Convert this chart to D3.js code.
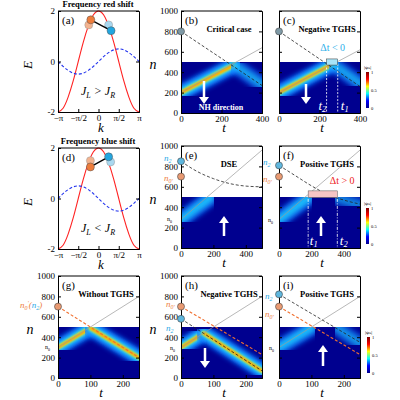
<!DOCTYPE html>
<html><head><meta charset="utf-8">
<script src="https://cdn.jsdelivr.net/npm/d3@7"></script>
<style>body{margin:0;background:#fff}text{font-family:"Liberation Serif","DejaVu Serif",serif}</style>
</head><body><svg id="fig" width="400" height="400"></svg>
<script>
// band-structure samples, k in units of pi
const kSamples = [-1,-0.875,-0.75,-0.625,-0.5,-0.375,-0.25,-0.125,0,0.125,0.25,0.375,0.5,0.625,0.75,0.875,1];
const bandRed = [-2,-1.85,-1.41,-0.77,0,0.77,1.41,1.85,2,1.85,1.41,0.77,0,-0.77,-1.41,-1.85,-2];
const bandBlueA = [0,-0.19,-0.35,-0.46,-0.5,-0.46,-0.35,-0.19,0,0.19,0.35,0.46,0.5,0.46,0.35,0.19,0];
const bandBlueD = bandBlueA.map(v => -v);
const kTicks = [-1,-0.5,0,0.5,1];
const kTickLabels = ["\u2212\u03c0","\u2212\u03c0/2","0","\u03c0/2","\u03c0"];
const eTicks = [-2,0,2];
const nTicks = [0,200,400,600,800,1000];

// beams: [t,n] paths and strength per panel
const beams = {
  b: [[[[0,200],[262,470]],1],[[[262,470],[400,280]],0.4]],
  c: [[[[0,200],[265,480]],1],[[[265,480],[400,290]],0.4]],
  e: [[[[0,280],[180,490]],0.5],[[[180,492],[500,492]],0.3]],
  f: [[[[0,280],[180,490]],0.5],[[[180,492],[360,492]],0.25],[[[360,490],[500,420]],0.3]],
  g: [[[[0,300],[100,490]],1],[[[100,490],[250,200]],1]],
  h: [[[[0,300],[70,440]],1],[[[70,440],[250,70]],1]],
  i: [[[[0,300],[100,490]],0.5],[[[100,490],[180,490]],0.25],[[[180,490],[250,340]],0.35]]
};
const greyLines = {
  b: [[0,200],[400,640]], c: [[0,200],[400,620]],
  e: [[0,280],[500,960]], f: [[0,280],[500,960]],
  g: [[0,300],[250,800]], h: [[0,300],[250,800]], i: [[0,300],[250,800]]
};
const blackDashed = {
  b: [[0,800],[400,270]], c: [[0,800],[400,260]],
  e: [[0,850],[100,750],[200,680],[300,632],[400,607],[500,600]],
  f: [[0,810],[100,710],[200,610],[300,525],[400,470],[500,430]],
  h: [[0,580],[250,70]], i: [[0,820],[250,350]]
};
const orangeDashed = { g: [[0,700],[250,200]], h: [[0,700],[250,230]], i: [[0,700],[250,230]] };
const markers = {
  b: [[800,"#7f9aa6"]], c: [[800,"#7f9aa6"]],
  e: [[850,"#5fb7de"],[700,"#e99a72"]], f: [[810,"#5fb7de"],[700,"#e99a72"]],
  g: [[700,"#e99a72"]], h: [[700,"#e99a72"],[580,"#5fb7de"]], i: [[820,"#5fb7de"],[700,"#e99a72"]]
};

const svg = d3.select("#fig");
const defs = svg.append("defs");
defs.append("filter").attr("id","blur").append("feGaussianBlur").attr("stdDeviation",2.5);
defs.append("filter").attr("id","blur2").append("feGaussianBlur").attr("stdDeviation",1);
const jet = defs.append("linearGradient").attr("id","jet").attr("x1","0").attr("y1","1").attr("x2","0").attr("y2","0");
[["0%","#00008f"],["20%","#0000ff"],["40%","#00ffff"],["60%","#ffff00"],["80%","#ff0000"],["100%","#800000"]]
  .forEach(s => jet.append("stop").attr("offset",s[0]).attr("stop-color",s[1]));

function axes(g, x, y, xt, xl, yt, yl, showY) {
  g.append("g").attr("transform",`translate(0,${y.range()[0]})`)
    .call(d3.axisBottom(x).tickValues(xt).tickFormat((d,i)=>xl?xl[i]:d).tickSize(-3).tickPadding(3))
    .call(a=>a.selectAll("text").attr("font-size",9).attr("fill","#000"));
  g.append("g").attr("transform",`translate(${x.range()[1]},0)`)
    .call(d3.axisRight(y).tickValues(yt).tickSize(-3).tickFormat(""));
  g.append("g").attr("transform",`translate(${x.range()[0]},0)`)
    .call(d3.axisLeft(y).tickValues(yt).tickSize(-3).tickPadding(3).tickFormat(showY?(yl||(d=>d)):""))
    .call(a=>a.selectAll("text").attr("font-size",9).attr("fill","#000"));
  g.append("line").attr("x1",x.range()[0]).attr("x2",x.range()[1]).attr("y1",y.range()[1]).attr("y2",y.range()[1]).attr("stroke","#000");
}

function bandPanel(id, top, blue, title, rel) {
  const x = d3.scaleLinear().domain([-1,1]).range([58,139]);
  const y = d3.scaleLinear().domain([-2,2]).range([top+101,top]);
  const g = svg.append("g");
  const ln = d3.line().x((d,i)=>x(kSamples[i])).y(d=>y(d)).curve(d3.curveNatural);
  g.append("path").attr("d",ln(bandRed)).attr("fill","none").attr("stroke","#f22").attr("stroke-width",1.1);
  g.append("path").attr("d",ln(blue)).attr("fill","none").attr("stroke","#2233ee").attr("stroke-width",1.1).attr("stroke-dasharray","3,2");
  axes(g,x,y,kTicks,kTickLabels,eTicks,null,true);
  g.append("text").attr("x",98).attr("y",top-4).attr("text-anchor","middle").attr("font-size",8.5).attr("font-weight","bold").text(title);
  g.append("text").attr("x",62).attr("y",top+13).attr("font-size",11).text(`(${id})`);
  g.append("text").attr("x",98).attr("y",top+84).attr("text-anchor","middle").attr("font-size",12).attr("font-style","italic")
    .html(`J<tspan font-size="8" dy="3">L</tspan><tspan dy="-3"> ${rel} J</tspan><tspan font-size="8" dy="3">R</tspan>`);
  g.append("text").attr("x",101).attr("y",top+121).attr("text-anchor","middle").attr("font-size",13).attr("font-style","italic").text("k");
  g.append("text").attr("transform",`translate(32,${top+54}) rotate(-90)`).attr("text-anchor","middle").attr("font-size",13).attr("font-style","italic").text("E");
  return {g,x,y};
}
function dots(p, faded, solid) {
  faded.forEach(c=>p.g.append("circle").attr("cx",p.x(c[0])).attr("cy",p.y(c[1])).attr("r",4).attr("fill",c[2]).attr("stroke","#999").attr("stroke-width",0.5));
  p.g.append("line").attr("x1",p.x(solid[0][0])).attr("y1",p.y(solid[0][1])).attr("x2",p.x(solid[1][0])).attr("y2",p.y(solid[1][1])).attr("stroke","#000").attr("stroke-width",1.4);
  solid.forEach(c=>p.g.append("circle").attr("cx",p.x(c[0])).attr("cy",p.y(c[1])).attr("r",4).attr("fill",c[2]).attr("stroke","#555").attr("stroke-width",0.5));
}

const a = bandPanel("a", 11, bandBlueA, "Frequency red shift", ">");
dots(a, [[-0.24,1.45,"#f3b38f"],[0.25,1.45,"#a9d8f0"]], [[-0.19,1.65,"#ee7d3c"],[0.31,1.22,"#22a6e0"]]);
const dP = bandPanel("d", 148, bandBlueD, "Frequency blue shift", "<");
dots(dP, [[-0.2,1.5,"#f3b38f"],[0.3,1.45,"#a9d8f0"]], [[-0.2,1.25,"#ee7d3c"],[0.25,1.65,"#22a6e0"]]);

function mapPanel(id, x0, top, tMax, tTicks, title, showY) {
  const x = d3.scaleLinear().domain([0,tMax]).range([x0,x0+81]);
  const y = d3.scaleLinear().domain([0,1000]).range([top+102,top]);
  const g = svg.append("g");
  const cid = "clip"+id;
  defs.append("clipPath").attr("id",cid).append("rect").attr("x",x(0)).attr("y",y(500)).attr("width",81).attr("height",y(0)-y(500));
  g.append("rect").attr("x",x(0)).attr("y",y(500)).attr("width",81).attr("height",y(0)-y(500)).attr("fill","#00008f");
  const bg = g.append("g").attr("clip-path",`url(#${cid})`);
  const ln = d3.line().x(d=>x(d[0])).y(d=>y(d[1]));
  (beams[id]||[]).forEach(([pts,s])=>{
    bg.append("path").attr("d",ln(pts)).attr("stroke","#1070ff").attr("stroke-width",16).attr("fill","none").attr("opacity",Math.min(1,s*1.6)).attr("filter","url(#blur)").attr("stroke-linecap","round");
    bg.append("path").attr("d",ln(pts)).attr("stroke","#20e0ff").attr("stroke-width",8).attr("fill","none").attr("opacity",Math.min(1,s*1.5)).attr("filter","url(#blur)").attr("stroke-linecap","round");
    if (s>0.6) {
      bg.append("path").attr("d",ln(pts)).attr("stroke","#ffee00").attr("stroke-width",4).attr("fill","none").attr("filter","url(#blur2)").attr("stroke-linecap","round");
      bg.append("path").attr("d",ln(pts)).attr("stroke","#ff3300").attr("stroke-width",1.2).attr("fill","none").attr("opacity",0.8).attr("filter","url(#blur2)");
    }
  });
  g.append("path").attr("d",ln(greyLines[id])).attr("stroke","#999").attr("stroke-width",0.7).attr("fill","none");
  if (blackDashed[id]) g.append("path").attr("d",d3.line().x(d=>x(d[0])).y(d=>y(d[1])).curve(d3.curveMonotoneX)(blackDashed[id])).attr("stroke","#222").attr("stroke-width",0.8).attr("stroke-dasharray","3,2").attr("fill","none");
  if (orangeDashed[id]) g.append("path").attr("d",ln(orangeDashed[id])).attr("stroke","#f07030").attr("stroke-width",1.1).attr("stroke-dasharray","3,2").attr("fill","none");
  axes(g,x,y,tTicks,null,nTicks,null,showY);
  (markers[id]||[]).forEach(m=>g.append("circle").attr("cx",x(0)).attr("cy",y(m[0])).attr("r",3.5).attr("fill",m[1]).attr("stroke","#444").attr("stroke-width",0.6));
  g.append("text").attr("x",x0+4).attr("y",top+13).attr("font-size",11).text(`(${id})`);
  g.append("text").attr("x",x0+48).attr("y",top+21).attr("text-anchor","middle").attr("font-size",8.5).attr("font-weight","bold").text(title);
  g.append("text").attr("x",x0+43).attr("y",top+121).attr("text-anchor","middle").attr("font-size",13).attr("font-style","italic").text("t");
  if (showY) g.append("text").attr("x",x0-28).attr("y",top+58).attr("text-anchor","middle").attr("font-size",14).attr("font-style","italic").text("n");
  return {g,x,y};
}

function arrow(g, cx, y1, y2) {
  const dir = Math.sign(y2-y1);
  g.append("line").attr("x1",cx).attr("x2",cx).attr("y1",y1).attr("y2",y2-dir*6).attr("stroke","#fff").attr("stroke-width",2.5);
  g.append("path").attr("d",`M${cx-5},${y2-dir*7}L${cx+5},${y2-dir*7}L${cx},${y2}Z`).attr("fill","#fff");
}
function colorbar(x0, y0) {
  svg.append("rect").attr("x",x0).attr("y",y0).attr("width",3).attr("height",36).attr("fill","url(#jet)");
  [["1",0],["0.5",18],["0",36]].forEach(t=>svg.append("text").attr("x",x0+5).attr("y",y0+t[1]+2).attr("font-size",4.5).text(t[0]));
  svg.append("text").attr("x",x0-2).attr("y",y0-3).attr("font-size",5).text("|\u03c8\u2099|");
}
function lbl(g, x, y, txt, col, fs, sub) {
  g.append("text").attr("x",x).attr("y",y).attr("font-size",fs||11).attr("fill",col).attr("font-style","italic")
    .html(sub?`${txt}<tspan font-size="${(fs||11)*0.65}" dy="2">${sub}</tspan>`:txt);
}
function n0(g, x, y) {
  g.append("text").attr("x",x).attr("y",y).attr("font-size",6).html(`n<tspan font-size="4" dy="1.5">0</tspan>`);
}

const b = mapPanel("b",181,11,400,[0,200,400],"Critical case",true);
arrow(b.g,204,81,104);
b.g.append("text").attr("x",221).attr("y",110).attr("text-anchor","middle").attr("font-size",8).attr("font-weight","bold").attr("fill","#fff").text("NH direction");
const c = mapPanel("c",279,11,400,[0,200,400],"Negative TGHS",false);
arrow(c.g,306,84,104);
[235,290].forEach(t=>c.g.append("line").attr("x1",c.x(t)).attr("x2",c.x(t)).attr("y1",c.y(480)).attr("y2",c.y(0)).attr("stroke","#fff").attr("stroke-width",0.8).attr("stroke-dasharray","2,1.5"));
c.g.append("rect").attr("x",c.x(235)).attr("y",c.y(530)).attr("width",c.x(290)-c.x(235)).attr("height",c.y(470)-c.y(530)).attr("fill","#a8e4f8").attr("stroke","#333").attr("stroke-width",0.5);
c.g.append("text").attr("x",c.x(265)).attr("y",c.y(610)).attr("text-anchor","middle").attr("font-size",10).attr("fill","#2fb0ea").text("\u0394t < 0");
lbl(c.g,c.x(195),c.y(30),"t","#fff",13,"2"); lbl(c.g,c.x(305),c.y(30),"t","#fff",13,"1");
colorbar(366,72);

const e = mapPanel("e",181,146,500,[0,200,400],"DSE",true);
arrow(e.g,224,236,216);
lbl(e.g,164,161,"n","#29a9e6",9,"2"); lbl(e.g,164,181,"n","#ee7d3c",9,"0\u2032");
n0(e.g,167,221);
const f = mapPanel("f",279,146,500,[0,200,400],"Positive TGHS",false);
arrow(f.g,321,236,216);
[180,360].forEach(t=>f.g.append("line").attr("x1",f.x(t)).attr("x2",f.x(t)).attr("y1",f.y(550)).attr("y2",f.y(0)).attr("stroke","#fff").attr("stroke-width",0.8).attr("stroke-dasharray","3,1.5,1,1.5"));
f.g.append("rect").attr("x",f.x(180)).attr("y",f.y(560)).attr("width",f.x(360)-f.x(180)).attr("height",f.y(495)-f.y(560)).attr("fill","#f6c5c5").attr("stroke","#555").attr("stroke-width",0.5);
f.g.append("text").attr("x",f.x(390)).attr("y",f.y(625)).attr("text-anchor","middle").attr("font-size",10).attr("fill","#ee2222").text("\u0394t > 0");
lbl(f.g,f.x(190),f.y(30),"t","#fff",13,"1"); lbl(f.g,f.x(375),f.y(30),"t","#fff",13,"2");
lbl(f.g,263,165,"n","#29a9e6",9,"2"); lbl(f.g,263,182,"n","#ee7d3c",9,"0\u2032");
n0(f.g,268,222);
colorbar(366,208);

const gP = mapPanel("g",58,276,250,[0,100,200],"Without TGHS",true);
gP.g.append("text").attr("x",20).attr("y",308).attr("font-size",9).attr("font-style","italic")
  .html(`<tspan fill="#ee7d3c">n<tspan font-size="6" dy="2">0</tspan><tspan dy="-5" font-size="6">\u2032</tspan></tspan><tspan dy="3" fill="#ee7d3c">(</tspan><tspan fill="#29a9e6">n<tspan font-size="6" dy="2">2</tspan></tspan><tspan dy="-2" fill="#ee7d3c">)</tspan>`);
n0(gP.g,45,349);
const h = mapPanel("h",181,276,250,[0,100,200],"Negative TGHS",true);
arrow(h.g,205,348,368);
lbl(h.g,166,307,"n","#ee7d3c",9,"0\u2032"); lbl(h.g,166,331,"n","#29a9e6",9,"2");
n0(h.g,170,350);
const iP = mapPanel("i",279,276,250,[0,100,200],"Positive TGHS",false);
arrow(iP.g,323,366,345);
lbl(iP.g,265,299,"n","#29a9e6",9,"2"); lbl(iP.g,265,317,"n","#ee7d3c",9,"0\u2032");
n0(iP.g,269,350);
colorbar(367,337);
</script></body></html>
